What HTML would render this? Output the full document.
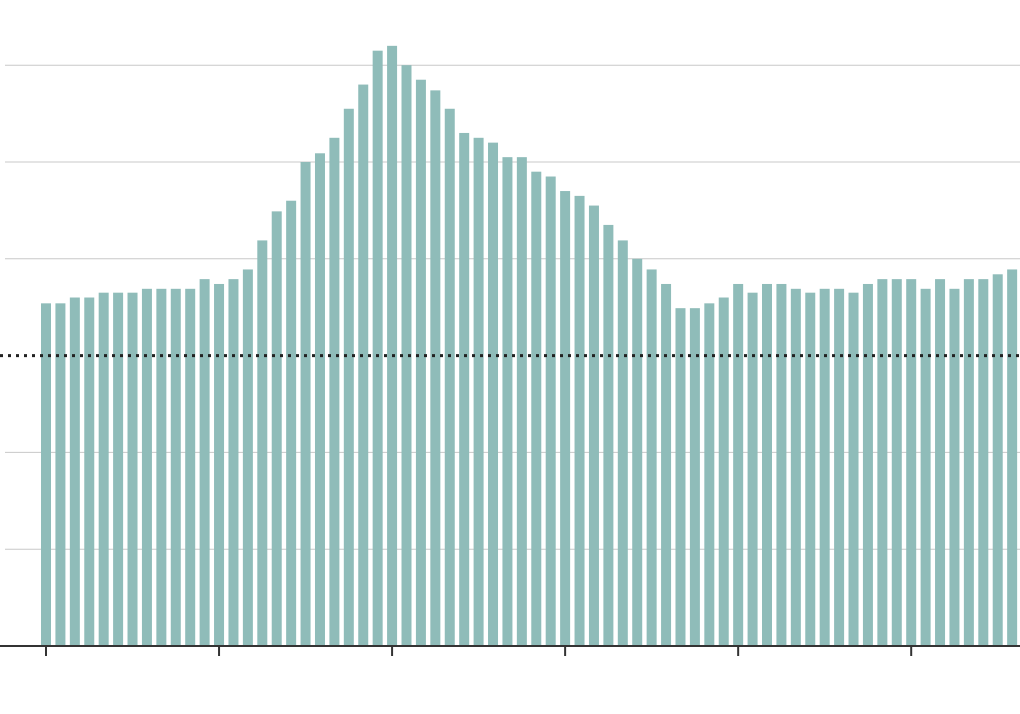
<!DOCTYPE html>
<html><head><meta charset="utf-8"><style>
html,body{margin:0;padding:0;background:#fff;}
svg{display:block;font-family:"Liberation Sans",sans-serif;}
</style></head><body>
<svg id="chart" width="1020" height="714" viewBox="0 0 1020 714" xmlns="http://www.w3.org/2000/svg"></svg>
<script>
const values = [3.54,3.54,3.60,3.60,3.65,3.65,3.65,3.69,3.69,3.69,3.69,3.79,3.74,3.79,3.89,4.19,4.49,4.60,5.00,5.09,5.25,5.55,5.80,6.15,6.20,6.00,5.85,5.74,5.55,5.30,5.25,5.20,5.05,5.05,4.90,4.85,4.70,4.65,4.55,4.35,4.19,4.00,3.89,3.74,3.49,3.49,3.54,3.60,3.74,3.65,3.74,3.74,3.69,3.65,3.69,3.69,3.65,3.74,3.79,3.79,3.79,3.69,3.79,3.69,3.79,3.79,3.84,3.89];
const gridTicks = [1,2,4,5,6];
const refValue = 3;
const xTickEvery = 12;

const svg = document.getElementById('chart');
const NS = 'http://www.w3.org/2000/svg';
const baseY = 646, unit = 96.8;
const x0 = 46, step = 14.42, bw = 10;
const y = v => baseY - v * unit;
const xc = i => x0 + i * step;
function mk(tag, attrs){const e=document.createElementNS(NS,tag);for(const k in attrs)e.setAttribute(k,attrs[k]);svg.appendChild(e);return e;}

gridTicks.forEach(t=>{
  const l = mk('line',{x1:5,x2:1020,y1:y(t),y2:y(t),stroke:'#c8c8c8','stroke-width':1});
  
  
});
values.forEach((v,i)=>{
  const r = mk('rect',{x:xc(i)-bw/2,y:y(v),width:bw,height:baseY-y(v),fill:'#8fbcb9'});
  
  
});
const ref = mk('line',{x1:0,x2:1020,y1:y(refValue),y2:y(refValue),stroke:'#222','stroke-width':3,'stroke-dasharray':'3,5'});


const base = mk('line',{x1:0,x2:1020,y1:baseY,y2:baseY,stroke:'#333','stroke-width':2});


for(let i=0;i<values.length;i+=xTickEvery){
  const t = mk('line',{x1:xc(i),x2:xc(i),y1:baseY,y2:baseY+10,stroke:'#333','stroke-width':2});
  
  
}
</script>
</body></html>
